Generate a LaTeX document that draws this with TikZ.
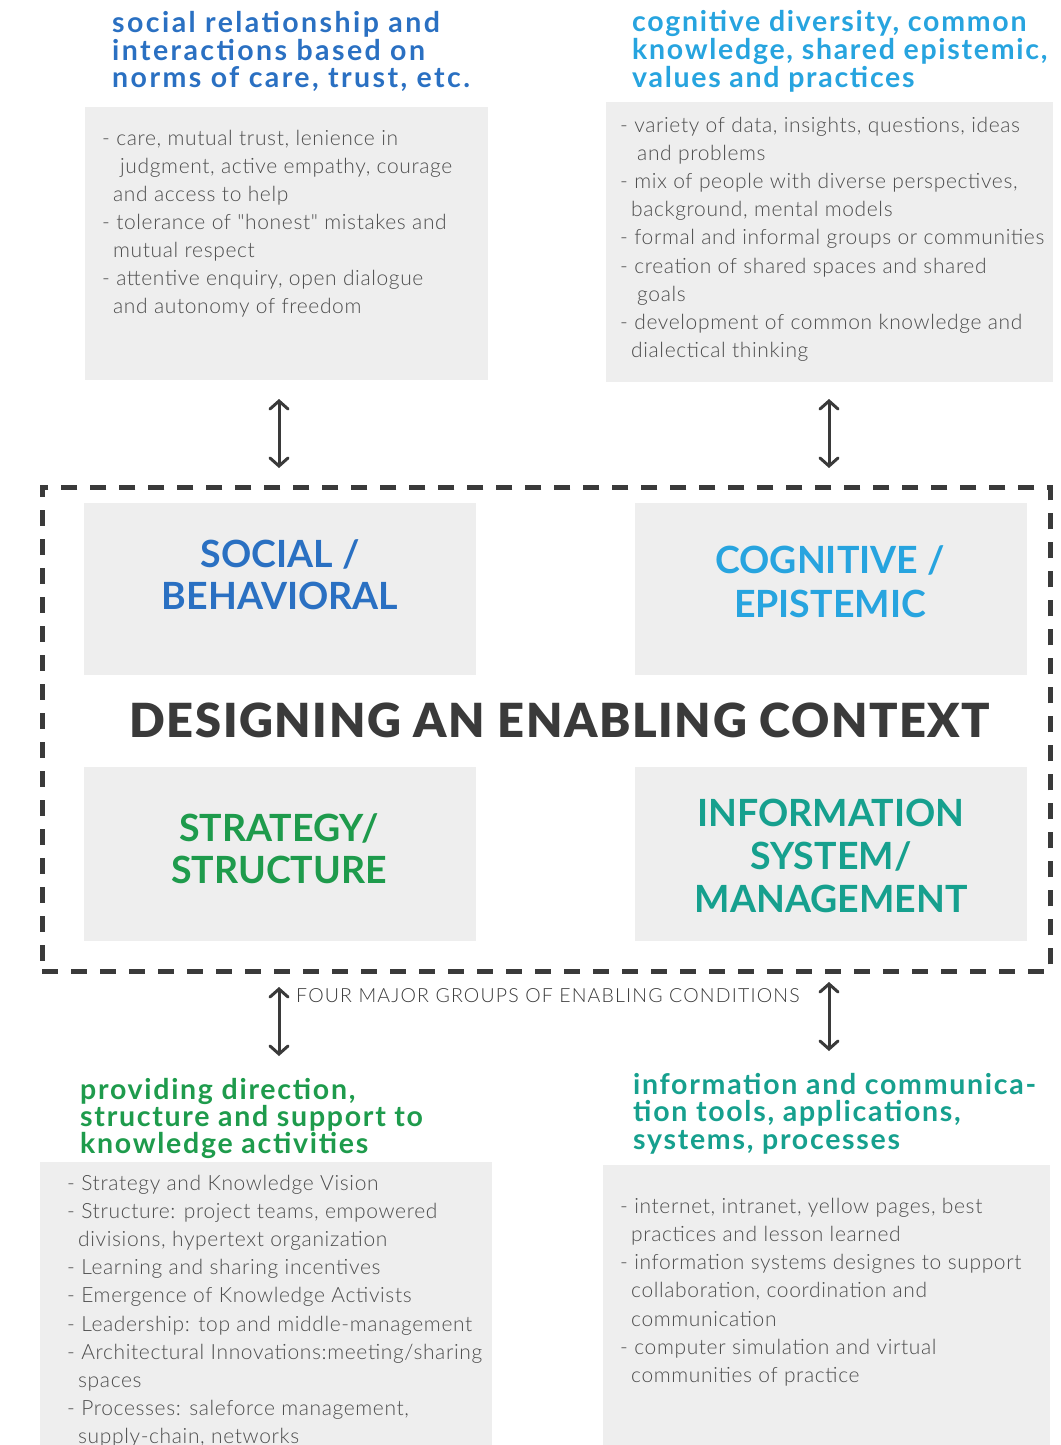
\documentclass[tikz,border=0pt]{standalone}
\usepackage{fontspec}
\setmainfont{Lato}
\newfontfamily\latolight{Lato Light}
\newfontfamily\latoblack{Lato Black}
\usetikzlibrary{arrows.meta}
\definecolor{cblue}{HTML}{2A70C2}
\definecolor{clblue}{HTML}{27A4DF}
\definecolor{cgreen}{HTML}{1E9B4C}
\definecolor{cteal}{HTML}{16A08E}
\definecolor{cdark}{HTML}{3A3A3A}
\definecolor{ctext}{HTML}{4D4D4D}
\definecolor{boxgray}{HTML}{EEEEEE}
\newcommand\Lines[2]{\vtop{\baselineskip=#1\lineskiplimit=-1000pt\lineskip=0pt #2}}
\newcommand\Ll[1]{\hbox{#1}}
\newcommand\Lc[1]{\hbox to 0pt{\hss#1\hss}}
\newcommand\Ki[2]{\hbox{\kern#1pt #2}}
\tikzset{
  graybox/.style={fill=boxgray, draw=none, inner sep=0pt, anchor=north west},
  title/.style={inner sep=0pt, anchor=base west, font=\bfseries\fontsize{28.5}{28}\selectfont\addfontfeatures{LetterSpace=6}},
  titlewide/.style={inner sep=0pt, anchor=base west, font=\bfseries\fontsize{28.5}{28}\selectfont\addfontfeatures{LetterSpace=8.5}},
  bullets/.style={inner sep=0pt, anchor=base west, text=ctext, font=\latolight\fontsize{21}{28}\selectfont\addfontfeatures{LetterSpace=3}},
  biglabel/.style={inner sep=0pt, anchor=base, font=\bfseries\fontsize{37.5}{37}\selectfont},
  dblarrow/.style={draw=cdark, line width=3pt, line cap=round, {Straight Barb[length=8pt,width=18pt,line cap=round]}-{Straight Barb[length=8pt,width=18pt,line cap=round]}},
  frame/.style={draw=cdark, line width=4.5pt, dash pattern=on 16pt off 13pt, inner sep=0pt, anchor=north west}
}
\begin{document}
\begin{tikzpicture}[x=1pt,y=-1pt]
\useasboundingbox (0,0) rectangle (1060,1445);
% gray boxes
\node[graybox, minimum width=403pt, minimum height=273pt] (tlbox) at (85,107) {};
\node[graybox, minimum width=447pt, minimum height=280pt] (trbox) at (606,102) {};
\node[graybox, minimum width=452pt, minimum height=283pt] (blbox) at (40,1162) {};
\node[graybox, minimum width=447pt, minimum height=280pt] (brbox) at (603,1165) {};
\node[graybox, minimum width=392pt, minimum height=172pt] (socbox) at (84,503) {};
\node[graybox, minimum width=392pt, minimum height=172pt] (cogbox) at (635,503) {};
\node[graybox, minimum width=392pt, minimum height=174pt] (strbox) at (84,767) {};
\node[graybox, minimum width=392pt, minimum height=174pt] (infbox) at (635,767) {};
% frame
\node[frame, minimum width=1008pt, minimum height=484pt] (frame) at (40,485) {};
% titles
\node[titlewide, text=cblue] (tltitle) at (112,33) {\Lines{27.5pt}{\Ll{social relationship and}\Ll{interactions based on}\Ll{norms of care, trust, etc.}}};
\node[title, text=clblue] (trtitle) at (632,32) {\Lines{28pt}{\Ll{cognitive diversity, common}\Ll{knowledge, shared epistemic,}\Ll{values and practices}}};
\node[title, text=cgreen] (bltitle) at (80,1099) {\Lines{27pt}{\Ll{providing direction,}\Ll{structure and support to}\Ll{knowledge activities}}};
\node[title, text=cteal] (brtitle) at (633,1094) {\Lines{27.5pt}{\Ll{information and communica-}\Ll{tion tools, applications,}\Ll{systems, processes}}};
% bullets
\node[bullets] (tlbul) at (102,145) {\Lines{28pt}{%
\Ll{- care, mutual trust, lenience in}%
\Ki{18}{judgment, active empathy, courage}%
\Ki{11}{and access to help}%
\Ll{- tolerance of "honest" mistakes and}%
\Ki{11}{mutual respect}%
\Ll{- attentive enquiry, open dialogue}%
\Ki{11}{and autonomy of freedom}}};
\node[bullets] (trbul) at (620,132) {\Lines{28.2pt}{%
\Ll{- variety of data, insights, questions, ideas}%
\Ki{17}{and problems}%
\Ll{- mix of people with diverse perspectives,}%
\Ki{11}{background, mental models}%
\Ll{- formal and informal groups or communities}%
\Ll{- creation of shared spaces and shared}%
\Ki{17}{goals}%
\Ll{- development of common knowledge and}%
\Ki{11}{dialectical thinking}}};
\node[bullets] (blbul) at (67,1190) {\Lines{28.2pt}{%
\Ll{- Strategy and Knowledge Vision}%
\Ll{- Structure: project teams, empowered}%
\Ki{11}{divisions, hypertext organization}%
\Ll{- Learning and sharing incentives}%
\Ll{- Emergence of Knowledge Activists}%
\Ll{- Leadership: top and middle-management}%
\Ll{- Architectural Innovations:meeting/sharing}%
\Ki{11}{spaces}%
\Ll{- Processes: saleforce management,}%
\Ki{11}{supply-chain, networks}}};
\node[bullets] (brbul) at (620,1213) {\Lines{28.3pt}{%
\Ll{- internet, intranet, yellow pages, best}%
\Ki{11}{practices and lesson learned}%
\Ll{- information systems designes to support}%
\Ki{11}{collaboration, coordination and}%
\Ki{11}{communication}%
\Ll{- computer simulation and virtual}%
\Ki{11}{communities of practice}}};
% big labels
\node[biglabel, text=cblue] (social) at (280,567) {\Lines{42pt}{\Lc{SOCIAL /}\Lc{BEHAVIORAL}}};
\node[biglabel, text=clblue] (cognitive) at (830,573) {\Lines{44pt}{\Lc{COGNITIVE /}\Lc{EPISTEMIC}}};
\node[biglabel, text=cgreen] (strategy) at (279,841) {\Lines{42pt}{\Lc{STRATEGY/}\Lc{STRUCTURE}}};
\node[biglabel, text=cteal] (info) at (831,826) {\Lines{43pt}{\Lc{INFORMATION}\Lc{SYSTEM/}\Lc{MANAGEMENT}}};
\node[inner sep=0pt, anchor=base, text=cdark, font=\latoblack\fontsize{47}{47}\selectfont\addfontfeatures{LetterSpace=3.4}] (main) at (560,737) {DESIGNING AN ENABLING CONTEXT};
\node[inner sep=0pt, anchor=base west, text=cdark, font=\latolight\fontsize{19.5}{20}\selectfont\addfontfeatures{LetterSpace=6}] (four) at (296,1002) {FOUR MAJOR GROUPS OF ENABLING CONDITIONS};
% arrows
\coordinate (a1t) at (279,399);
\coordinate (a1b) at (279,468);
\coordinate (a2t) at (829,399);
\coordinate (a2b) at (829,468);
\coordinate (a3t) at (279,987);
\coordinate (a3b) at (279,1056);
\coordinate (a4t) at (829,982);
\coordinate (a4b) at (829,1051);
\draw[dblarrow] (a1t) -- (a1b);
\draw[dblarrow] (a2t) -- (a2b);
\draw[dblarrow] (a3t) -- (a3b);
\draw[dblarrow] (a4t) -- (a4b);
\end{tikzpicture}
\end{document}
